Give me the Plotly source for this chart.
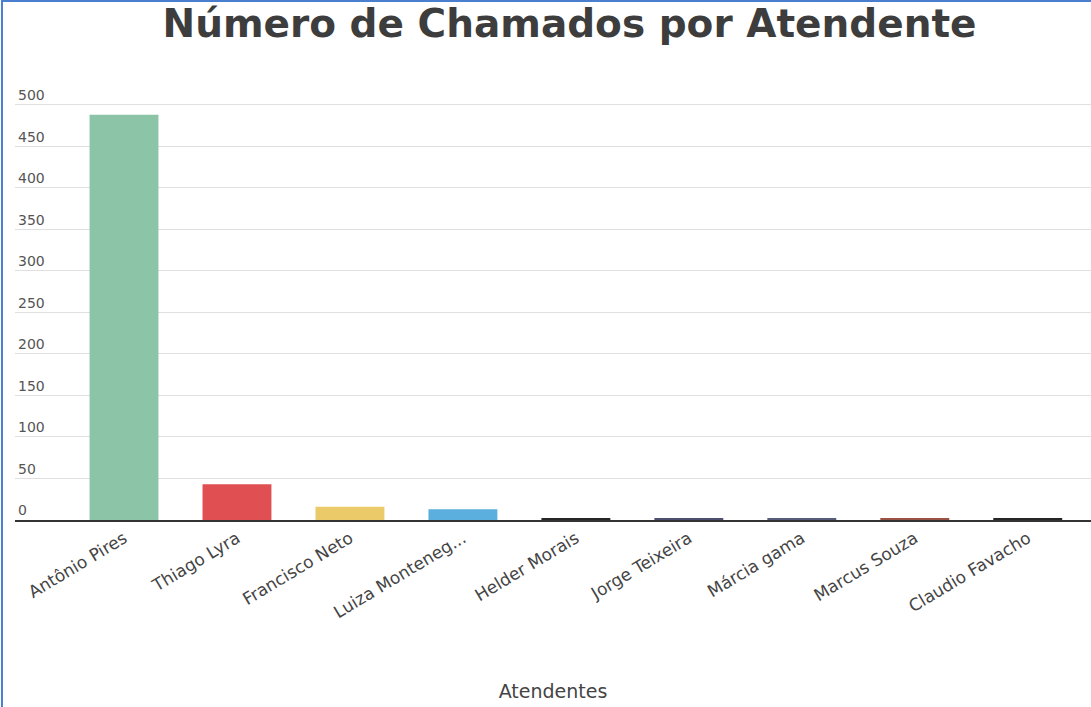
import plotly.graph_objects as go

atendentes = ["Antônio Pires", "Thiago Lyra", "Francisco Neto", "Luiza Monteneg...",
              "Helder Morais", "Jorge Teixeira", "Márcia gama", "Marcus Souza", "Claudio Favacho"]
chamados = [488, 43, 16, 13, 2, 2, 2, 2, 2]
cores = ["#8cc4a8", "#e04f52", "#ebcb69", "#5aafdf", "#262626", "#4d5070",
         "#575c7c", "#9b5243", "#262626"]
y_ticks = [0, 50, 100, 150, 200, 250, 300, 350, 400, 450, 500]

fig = go.Figure(go.Bar(x=atendentes, y=chamados, marker=dict(color=cores, line=dict(width=0)),
                       width=0.61))

fig.update_layout(
    width=1091, height=707,
    margin=dict(l=15, r=0, t=80, b=187),
    paper_bgcolor="white", plot_bgcolor="white",
    showlegend=False,
    font=dict(family="DejaVu Sans, Arial, sans-serif", color="#444"),
    title=dict(text="<b>Número de Chamados por Atendente</b>", x=0.522, xanchor="center",
               y=0.967, yanchor="middle",
               font=dict(size=39, color="#3d3d3d", family="DejaVu Sans, Arial, sans-serif")),
    xaxis=dict(
        range=[-0.965, 8.56],
        tickangle=-31,
        tickfont=dict(size=17, color="#444"),
        showgrid=False,
        showline=True, linecolor="#333", linewidth=2,
        ticks="",
        title=dict(text="Atendentes", font=dict(size=19, color="#444"), standoff=64),
        fixedrange=True,
    ),
    yaxis=dict(
        range=[0, 530],
        tickvals=y_ticks,
        ticklabelposition="inside top",
        tickfont=dict(size=14, color="#555"),
        showgrid=True, gridcolor="#e0e0e0", gridwidth=1,
        zeroline=False,
        showline=False,
        ticks="",
    ),
    shapes=[
        dict(type="line", xref="paper", yref="paper", x0=-0.0121, x1=-0.0121, y0=-0.46, y1=1.19,
             line=dict(color="#4a7fd0", width=2)),
        dict(type="line", xref="paper", yref="paper", x0=-0.0121, x1=1.0, y0=1.1795, y1=1.1795,
             line=dict(color="#4a7fd0", width=2)),
    ],
)

fig.write_html("out.html")
